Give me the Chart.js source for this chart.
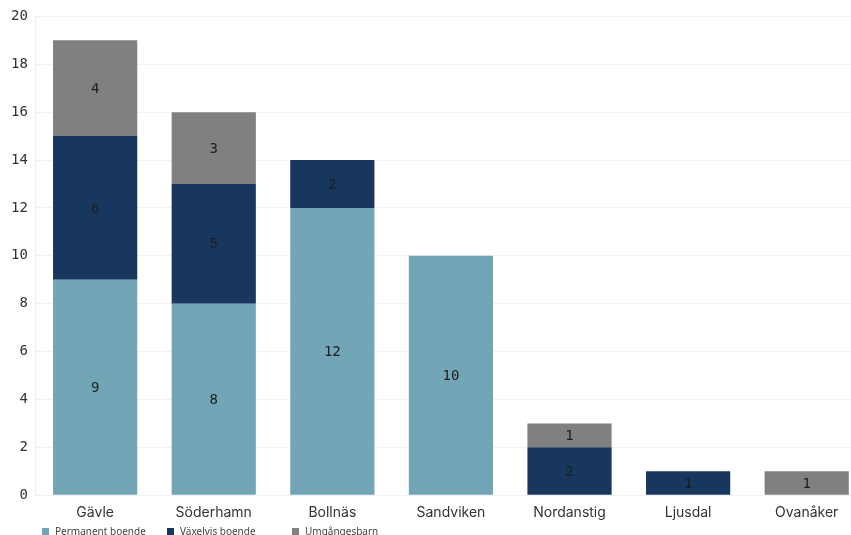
<!DOCTYPE html>
<html>
<head>
<meta charset="utf-8">
<script src="https://cdn.jsdelivr.net/npm/chart.js@4/dist/chart.umd.min.js"></script>
<style>
  html, body { margin: 0; padding: 0; background: #fff; overflow: hidden; }
  #wrap { width: 870px; height: 535px; }
</style>
</head>
<body>
<div id="wrap"><canvas id="myChart" width="870" height="535"></canvas></div>
<script>
const kommuner = ["Gävle", "Söderhamn", "Bollnäs", "Sandviken", "Nordanstig", "Ljusdal", "Ovanåker"];
const permanent = [9, 8, 12, 10, 0, 0, 0];
const vaxelvis = [6, 5, 2, 0, 2, 1, 0];
const umgange = [4, 3, 0, 0, 1, 0, 1];
const yTicks = [0, 2, 4, 6, 8, 10, 12, 14, 16, 18, 20];

// siffror mitt i varje stapeldel
const barLabels = {
    id: "barLabels",
    afterDatasetsDraw(chart) {
        const ctx = chart.ctx;
        ctx.save();
        ctx.font = "14px 'DejaVu Sans Mono'";
        ctx.fillStyle = "#1e1e1e";
        ctx.textAlign = "center";
        ctx.textBaseline = "middle";
        chart.data.datasets.forEach((ds, i) => {
            chart.getDatasetMeta(i).data.forEach((bar, j) => {
                if (!ds.data[j]) return;
                const mid = (bar.y + bar.base) / 2;
                ctx.fillText(ds.data[j], bar.x, mid + 1);
            });
        });
        ctx.restore();
    }
};

// liten legend längst ner till vänster
const smallLegend = {
    id: "smallLegend",
    afterDraw(chart) {
        const ctx = chart.ctx;
        const xs = [42, 167, 292];
        ctx.save();
        ctx.font = "10px 'Noto Sans'";
        ctx.textBaseline = "middle";
        chart.data.datasets.forEach((ds, i) => {
            ctx.fillStyle = ds.backgroundColor;
            ctx.fillRect(xs[i], 528, 7, 7);
            ctx.fillStyle = "#444";
            ctx.fillText(ds.label, xs[i] + 13, 532);
        });
        ctx.restore();
    }
};

const canvas = document.getElementById("myChart");
new Chart(canvas, {
    type: "bar",
    data: {
        labels: kommuner,
        datasets: [
            { label: "Permanent boende", data: permanent, backgroundColor: "#72a5b6" },
            { label: "Växelvis boende", data: vaxelvis, backgroundColor: "#17375f" },
            { label: "Umgångesbarn", data: umgange, backgroundColor: "#808080" }
        ]
    },
    options: {
        responsive: false,
        animation: false,
        layout: { padding: { left: 3, right: 4, top: 11, bottom: 13 } },
        datasets: { bar: { categoryPercentage: 1, barPercentage: 0.71 } },
        plugins: { legend: { display: false }, tooltip: { enabled: false } },
        scales: {
            x: {
                stacked: true,
                grid: { display: false },
                border: { display: false },
                ticks: { color: "#333", font: { family: "Inter", size: 14 }, padding: 1 }
            },
            y: {
                stacked: true,
                min: 0,
                max: 20,
                afterBuildTicks(axis) { axis.ticks = yTicks.map(v => ({ value: v })); },
                grid: { color: "#f2f2f2", drawTicks: false },
                border: { color: "#eeeeee" },
                ticks: { color: "#333", font: { family: "DejaVu Sans Mono", size: 14 }, padding: 8 }
            }
        }
    },
    plugins: [barLabels, smallLegend]
});
</script>
</body>
</html>
